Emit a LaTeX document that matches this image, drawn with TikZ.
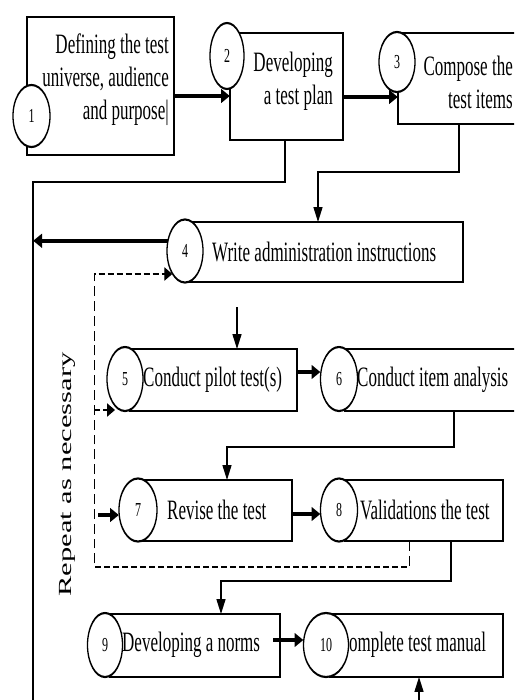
\documentclass[tikz,border=0pt]{standalone}
\usepackage{fontspec}
\setmainfont{Liberation Serif}
\usetikzlibrary{shapes.geometric,arrows.meta}

\tikzset{
  stepbox/.style={draw, line width=1.3pt, rectangle, inner sep=0pt, outer sep=0pt},
  stepnum/.style={draw, fill=white, line width=1.3pt, ellipse, inner sep=0pt, outer sep=0pt,
                  font=\fontsize{12}{14}\selectfont},
  steptext/.style={inner sep=0pt, font=\fontsize{17}{20}\selectfont},
  bigarrow/.style={line width=2.2pt, -{Triangle[length=9pt,width=8pt]}},
  link/.style={line width=1.3pt},
  linkarrow/.style={line width=1.3pt, -{Triangle[length=9pt,width=9pt]}},
  loopline/.style={line width=1pt, dash pattern=on 6pt off 3pt},
  looparrow/.style={loopline, -{Triangle[length=8pt,width=8pt]}},
}

\begin{document}
\begin{tikzpicture}[x=1pt,y=1pt]
\useasboundingbox (0,0) rectangle (514,-700);
% everything is drawn in pixel-like units and then stretched vertically
\begin{scope}[transform canvas={yscale=1.65}, x=1pt, y=-0.60606pt]
\clip (0,0) rectangle (514,700);

% ---- step boxes ----
\node[stepbox, minimum width=147pt, minimum height=83.6pt] (b1) at (100.5,86) {};
\node[stepbox, minimum width=113pt, minimum height=64.8pt] (b2) at (286.5,86.5) {};
\node[stepbox, minimum width=142pt, minimum height=55.2pt] (b3) at (469,78.5) {};
\node[stepbox, minimum width=273pt, minimum height=36.4pt] (b4) at (326.5,252) {};
\node[stepbox, minimum width=167pt, minimum height=37.6pt] (b5) at (213.5,380) {};
\node[stepbox, minimum width=195pt, minimum height=37.6pt] (b6) at (442.5,380) {};
\node[stepbox, minimum width=149pt, minimum height=37pt] (b7) at (217.5,510.5) {};
\node[stepbox, minimum width=158pt, minimum height=37pt] (b8) at (424,510.5) {};
\node[stepbox, minimum width=170pt, minimum height=38.2pt] (b9) at (195,645.5) {};
\node[stepbox, minimum width=173pt, minimum height=38.2pt] (b10) at (416.5,645.5) {};

% ---- numbered circles ----
\node[stepnum, minimum width=37pt, minimum height=37.6pt] (e1) at (31.5,116) {\raisebox{-3pt}{1}};
\node[stepnum, minimum width=34pt, minimum height=40pt] (e2) at (227,56) {2};
\node[stepnum, minimum width=36pt, minimum height=36.4pt] (e3) at (397,62) {3};
\node[stepnum, minimum width=36pt, minimum height=38.2pt] (e4) at (185,251) {4};
\node[stepnum, minimum width=36pt, minimum height=38.8pt] (e5) at (125,379) {5};
\node[stepnum, minimum width=37pt, minimum height=38.8pt] (e6) at (339,379) {6};
\node[stepnum, minimum width=38pt, minimum height=38.2pt] (e7) at (138,510) {7};
\node[stepnum, minimum width=37pt, minimum height=38.2pt] (e8) at (339,510) {8};
\node[stepnum, minimum width=35pt, minimum height=38.8pt] (e9) at (105,645) {9};
\node[stepnum, minimum width=45pt, minimum height=38.8pt] (e10) at (326,645) {10};

% ---- step labels ----
\node[steptext, anchor=east, align=right] (t1) at (169,80) {Defining the test\\universe, audience\\and purpose|};
\node[steptext, anchor=east, align=right] (t2) at (333,81.5) {Developing\\a test plan};
\node[steptext, anchor=east, align=right] (t3) at (513,82) {Compose the\\test items};
\node[steptext, anchor=west] (t4) at (212,252) {Write administration instructions};
\node[steptext, anchor=west] (t5) at (143,380) {Conduct pilot test(s)};
\node[steptext, anchor=west] (t6) at (357,380) {Conduct item analysis};
\node[steptext, anchor=west] (t7) at (167,510) {Revise the test};
\node[steptext, anchor=west] (t8) at (360,510) {Validations the test};
\node[steptext, anchor=west] (t9) at (122,645) {Developing a norms};
\node[steptext, anchor=west] (t10) at (349,645) {omplete test manual};

\node[inner sep=0pt, rotate=90, font=\fontsize{18.5}{22}\selectfont] (rep) at (67,474.5) {Repeat as necessary};

% ---- bend points ----
\coordinate (a1) at (0,96);
\coordinate (a2) at (0,97);
\coordinate (k1) at (285,182);
\coordinate (k2) at (33,182);
\coordinate (k3) at (33,700);
\coordinate (m1) at (459,172);
\coordinate (m2) at (318,172);
\coordinate (s4) at (237,307);
\coordinate (a5) at (0,372);
\coordinate (n1) at (454,447);
\coordinate (n2) at (227,447);
\coordinate (a7) at (0,514);
\coordinate (p1) at (451,581);
\coordinate (p2) at (221,581);
\coordinate (s9) at (273,640);
\coordinate (u1) at (419,700);
\coordinate (d1) at (409,567);
\coordinate (d2) at (94,567);
\coordinate (d3) at (94,274);
\coordinate (d4) at (94,410);
\coordinate (d5) at (115,410);
\coordinate (r1) at (98,515);

% ---- connectors ----
\draw[bigarrow] (b1.east |- a1) -- (b2.west |- a1);
\draw[bigarrow] (b2.east |- a2) -- (b3.west |- a2);
\draw[link] (b2.south -| k1) -- (k1) -- (k2) -- (k3);
\draw[bigarrow] (e4.160) -- (e4.160 -| k2);
\draw[linkarrow] (b3.south -| m1) -- (m1) -- (m2) -- (b4.north -| m2);
\draw[linkarrow] (s4) -- (b5.north -| s4);
\draw[bigarrow] (b5.east |- a5) -- (e6.west |- a5);
\draw[linkarrow] (b6.south -| n1) -- (n1) -- (n2) -- (b7.north -| n2);
\draw[bigarrow] (b7.east |- a7) -- (e8.west |- a7);
\draw[linkarrow] (b8.south -| p1) -- (p1) -- (p2) -- (b9.north -| p2);
\draw[bigarrow] (s9) -- (e10.west |- s9);
\draw[linkarrow] (u1) -- (b10.south -| u1);

% repeat loop
\draw[looparrow] (b8.south -| d1) -- (d1) -- (d2) -- (d3) -- (d3 -| e4.227);
\draw[looparrow] (d4) -- (d5);
\draw[bigarrow] (r1) -- (r1 -| e7.west);
\end{scope}
\end{tikzpicture}
\end{document}
